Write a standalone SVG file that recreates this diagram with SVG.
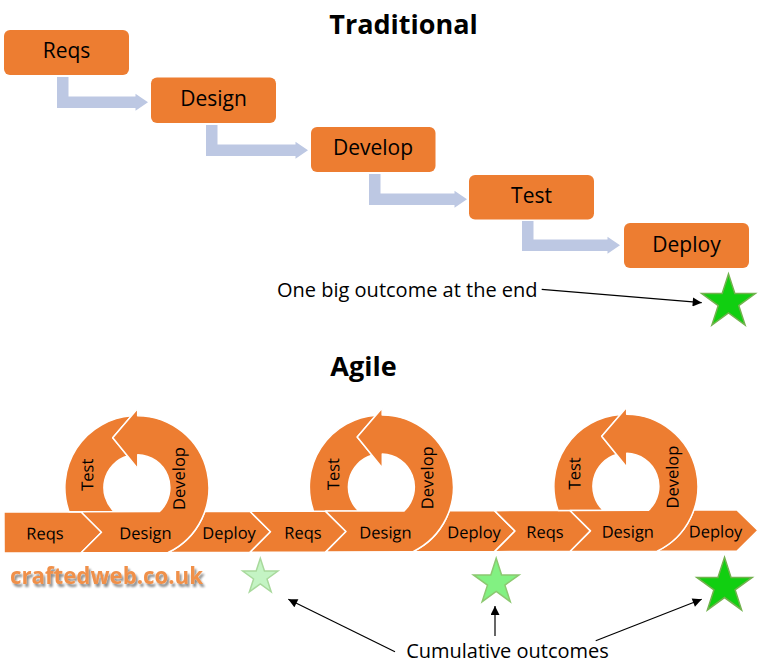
<svg xmlns="http://www.w3.org/2000/svg" width="760" height="669" viewBox="0 0 760 669">
<style>
.box{fill:#ED7D31;}
.blbl{font-family:"Open Sans","Liberation Sans",sans-serif;font-size:21px;fill:#000;text-anchor:middle;}
.flow{fill:#BDC8E3;}
.seg{fill:#ED7D31;stroke:#FFFFFF;stroke-width:1.5;stroke-linejoin:round;}
.albl{font-family:"Open Sans","Liberation Sans",sans-serif;font-size:16.5px;fill:#000;text-anchor:middle;}
.title{font-family:"Open Sans","Liberation Sans",sans-serif;font-size:27px;font-weight:bold;fill:#000;text-anchor:middle;}
.note{font-family:"Open Sans","Liberation Sans",sans-serif;font-size:20px;fill:#000;}
.ptr{stroke:#000;stroke-width:1.2;fill:none;}
.starBig{fill:#11CF11;stroke:#72B24E;stroke-width:1.5;}
.starMid{fill:#82F182;stroke:#8CC870;stroke-width:1.5;}
.starLow{fill:#C4F4C4;stroke:#A8D99C;stroke-width:1.5;}
</style>
<defs>
<marker id="ah" viewBox="0 0 10 10" refX="10" refY="5" markerWidth="10" markerHeight="9" markerUnits="userSpaceOnUse" orient="auto">
<path d="M0,0 L10,5 L0,10 z" fill="#000"/>
</marker>
<filter id="shadow" x="-10%" y="-30%" width="120%" height="180%">
<feGaussianBlur in="SourceAlpha" stdDeviation="1.2"/>
<feOffset dx="2" dy="3" result="o"/>
<feComponentTransfer><feFuncA type="linear" slope="0.45"/></feComponentTransfer>
<feMerge><feMergeNode/><feMergeNode in="SourceGraphic"/></feMerge>
</filter>
</defs>
<rect width="760" height="669" fill="#FFFFFF"/>

<text class="title" x="403.5" y="34">Traditional</text>
<text class="title" x="363.5" y="376">Agile</text>

<g id="connectors">
<polygon class="flow" points="57,77 68.5,77 68.5,96.5 135.5,96.5 135.5,93.75 148,102.25 135.5,110.75 135.5,108 57,108"/>
<polygon class="flow" points="206,125 217.5,125 217.5,144.5 295.5,144.5 295.5,141.75 308,150.25 295.5,158.75 295.5,156 206,156"/>
<polygon class="flow" points="369,174 380.5,174 380.5,193.5 454.5,193.5 454.5,190.75 467,199.25 454.5,207.75 454.5,205 369,205"/>
<polygon class="flow" points="522,221 533.5,221 533.5,239.5 607.5,239.5 607.5,236.75 620,245.25 607.5,253.75 607.5,251 522,251"/>
<line class="ptr" x1="541.7" y1="289.3" x2="701.7" y2="302.7" marker-end="url(#ah)"/>
<line class="ptr" x1="395" y1="651.7" x2="288.3" y2="599.3" marker-end="url(#ah)"/>
<line class="ptr" x1="495" y1="636" x2="495" y2="606" marker-end="url(#ah)"/>
<line class="ptr" x1="595.7" y1="640.7" x2="701.7" y2="599.3" marker-end="url(#ah)"/>
</g>

<g id="t-reqs"><rect class="box" x="4" y="30" width="125" height="45" rx="6"/><text class="blbl" x="66.5" y="58">Reqs</text></g>
<g id="t-design"><rect class="box" x="151" y="77.5" width="125" height="45.5" rx="6"/><text class="blbl" x="213.5" y="105.5">Design</text></g>
<g id="t-develop"><rect class="box" x="311" y="127" width="124.5" height="45" rx="6"/><text class="blbl" x="373" y="155">Develop</text></g>
<g id="t-test"><rect class="box" x="469" y="175" width="125" height="44.5" rx="6"/><text class="blbl" x="531.5" y="203">Test</text></g>
<g id="t-deploy"><rect class="box" x="624" y="223" width="125" height="45" rx="6"/><text class="blbl" x="686.5" y="251.5">Deploy</text></g>

<g id="t-note"><text class="note" x="277" y="296.5">One big outcome at the end</text></g>
<g id="t-star"><polygon class="starBig" points="728.5,274 734.83,293.49 755.32,293.49 738.74,305.53 745.08,325.01 728.5,312.97 711.92,325.01 718.26,305.53 701.68,293.49 722.17,293.49"/></g>

<g id="agile" transform="rotate(-0.16 4 532)">
<g id="a-band">
<path id="a-reqs1" class="seg" d="M4,512 H81 L101.5,532.5 L81,553 H4 Z"/>
<path id="a-deploy1" class="seg" d="M204.9,512 H250 L270.5,532.5 L250,553 H168 A72 72 0 0 0 204.9,512 Z"/>
<path id="a-reqs2" class="seg" d="M250,512 H325.5 L346,532.5 L325.5,553 H250 L270.5,532.5 Z"/>
<path id="a-deploy2" class="seg" d="M449.4,512 H494.5 L515,532.5 L494.5,553 H412.5 A72 72 0 0 0 449.4,512 Z"/>
<path id="a-reqs3" class="seg" d="M494.5,512 H570 L590.5,532.5 L570,553 H494.5 L515,532.5 Z"/>
<path id="a-deploy3" class="seg" d="M693.9,512 H737 L758,532.5 L737,553 H657 A72 72 0 0 0 693.9,512 Z"/>
</g>
<g id="a-loop1">
<path class="seg" d="M69.1,512 A72 72 0 0 1 131.8,416.2 L113,438 L127.8,456.3 A33 33 0 0 0 114.4,512 Z"/>
<path class="seg" d="M81,512 H159.6 A33 33 0 0 0 138,455 V469 L113,438 L138,409 V416 A72 72 0 0 1 168,553 H81 L101.5,532.5 Z"/>
</g>
<g id="a-loop2">
<path class="seg" d="M313.6,512 A72 72 0 0 1 376.3,416.2 L357.5,438 L372.3,456.3 A33 33 0 0 0 358.9,512 Z"/>
<path class="seg" d="M325.5,512 H404.1 A33 33 0 0 0 382.5,455 V469 L357.5,438 L382.5,409 V416 A72 72 0 0 1 412.5,553 H325.5 L346,532.5 Z"/>
</g>
<g id="a-loop3">
<path class="seg" d="M558.1,512 A72 72 0 0 1 620.8,416.2 L602,438 L616.8,456.3 A33 33 0 0 0 603.4,512 Z"/>
<path class="seg" d="M570,512 H648.6 A33 33 0 0 0 627,455 V469 L602,438 L627,409 V416 A72 72 0 0 1 657,553 H570 L590.5,532.5 Z"/>
</g>
<g id="a-labels">
<text class="albl" x="45" y="539.5">Reqs</text>
<text class="albl" x="145.5" y="539.5">Design</text>
<text class="albl" x="229" y="539.5">Deploy</text>
<text class="albl" x="303" y="539.5">Reqs</text>
<text class="albl" x="385.5" y="539.5">Design</text>
<text class="albl" x="474" y="539.5">Deploy</text>
<text class="albl" x="545" y="539.5">Reqs</text>
<text class="albl" x="627.8" y="539.5">Design</text>
<text class="albl" x="715.5" y="539.5">Deploy</text>
<text class="albl" transform="translate(93.3,475) rotate(-90)">Test</text>
<text class="albl" transform="translate(185,479) rotate(-90)">Develop</text>
<text class="albl" transform="translate(339.3,475) rotate(-90)">Test</text>
<text class="albl" transform="translate(433.3,479) rotate(-90)">Develop</text>
<text class="albl" transform="translate(580.5,475) rotate(-90)">Test</text>
<text class="albl" transform="translate(678.5,479) rotate(-90)">Develop</text>
</g>
</g>

<g id="a-stars">
<polygon class="starLow" points="260.3,558.3 264.46,571.08 277.9,571.08 267.02,578.99 271.17,591.77 260.3,583.87 249.43,591.77 253.58,578.99 242.71,571.08 256.14,571.08"/>
<polygon class="starMid" points="496.2,558.3 501.59,574.88 519.03,574.88 504.92,585.13 510.31,601.72 496.2,591.47 482.09,601.72 487.48,585.13 473.37,574.88 490.81,574.88"/>
<polygon class="starBig" points="724.5,557.3 731.04,577.4 752.18,577.41 735.08,589.84 741.61,609.94 724.5,597.52 707.4,609.94 713.92,589.84 696.82,577.41 717.96,577.4"/>
</g>

<g id="a-note"><text class="note" x="507.5" y="658.3" text-anchor="middle">Cumulative outcomes</text></g>

<g id="watermark"><text x="10" y="583.5" font-family="'Open Sans','Liberation Sans',sans-serif" font-size="22.5" font-weight="bold" fill="#F0904A" textLength="193" lengthAdjust="spacingAndGlyphs" filter="url(#shadow)">craftedweb.co.uk</text></g>
</svg>
